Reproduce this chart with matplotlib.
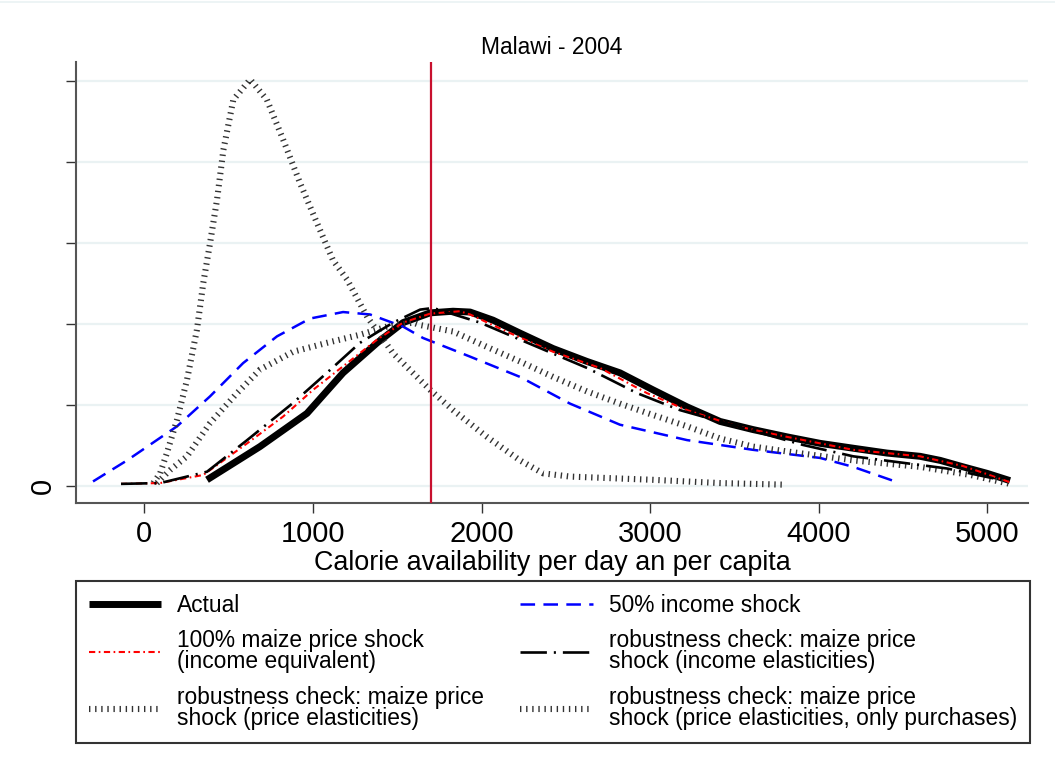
import matplotlib
matplotlib.use("Agg")
import matplotlib.pyplot as plt
from matplotlib.lines import Line2D

plt.rcParams["font.family"] = ["Liberation Sans", "DejaVu Sans"]
plt.rcParams["lines.scale_dashes"] = False

# density values, in units of 1e-4
actual_x = [372, 686, 965, 1179, 1381, 1535, 1695, 1831, 1932, 2068, 2228, 2424, 2626, 2821,
            3017, 3219, 3415, 3610, 3812, 4008, 4204, 4405, 4601, 4720, 4856, 4998, 5134]
actual_y = [0.08, 0.49, 0.90, 1.40, 1.77, 2.02, 2.14, 2.16, 2.15, 2.05, 1.89, 1.70, 1.54, 1.40,
            1.19, 0.98, 0.80, 0.70, 0.61, 0.53, 0.47, 0.41, 0.37, 0.32, 0.24, 0.16, 0.07]

income_x = [-304, -102, 194, 390, 586, 787, 983, 1179, 1339, 1535, 1653, 1932, 2228, 2525,
            2821, 3219, 3610, 4008, 4204, 4453]
income_y = [0.06, 0.32, 0.74, 1.11, 1.52, 1.85, 2.07, 2.15, 2.12, 1.97, 1.83, 1.60, 1.35, 1.02,
            0.76, 0.57, 0.45, 0.35, 0.24, 0.06]

maize_x = [-138, 94, 350, 610, 823, 1001, 1203, 1381, 1535, 1695, 1873, 1932, 2169, 2424,
           2703, 2981, 3219, 3515, 3812, 4204, 4601, 4856, 4998, 5134]
maize_y = [0.03, 0.04, 0.14, 0.53, 0.86, 1.19, 1.52, 1.81, 2.02, 2.13, 2.16, 2.12, 1.89, 1.66,
           1.46, 1.15, 0.94, 0.74, 0.61, 0.45, 0.37, 0.25, 0.15, 0.05]

inc_el_x = [-138, 94, 372, 610, 883, 1083, 1279, 1476, 1636, 1713, 1991, 2228, 2626, 2922,
            3177, 3415, 3907, 4204, 4500, 4760, 5077]
inc_el_y = [0.03, 0.04, 0.18, 0.57, 1.03, 1.40, 1.77, 2.02, 2.18, 2.20, 2.02, 1.81, 1.46, 1.15,
            0.94, 0.80, 0.51, 0.37, 0.29, 0.22, 0.08]

price_el_x = [75, 153, 253, 390, 550, 686, 883, 1083, 1279, 1439, 1594, 1635, 1831, 2032, 2228,
              2424, 2626, 2821, 3017, 3219, 3415, 3610, 3812, 4204, 4601, 4900, 5134]
price_el_y = [0.04, 0.20, 0.37, 0.78, 1.15, 1.44, 1.66, 1.77, 1.87, 1.97, 2.02, 1.99, 1.91, 1.72,
              1.54, 1.35, 1.17, 1.02, 0.88, 0.74, 0.59, 0.49, 0.43, 0.32, 0.24, 0.14, 0.03]

purch_x = [53, 94, 134, 194, 253, 312, 350, 390, 431, 469, 528, 628, 727, 823, 924, 1024, 1119,
           1203, 1322, 1476, 1695, 1831, 2032, 2228, 2365, 2525, 3017, 3415, 3800]
purch_y = [0.04, 0.16, 0.41, 0.82, 1.31, 1.93, 2.51, 3.00, 3.53, 4.15, 4.77, 5.02, 4.77, 4.28,
           3.74, 3.25, 2.79, 2.55, 2.09, 1.64, 1.19, 0.94, 0.61, 0.32, 0.16, 0.12, 0.08, 0.04, 0.02]

cutoff = 1700
x_ticks = [0, 1000, 2000, 3000, 4000, 5000]
y_ticks = [0, 1, 2, 3, 4, 5]
y_tick_labels = ["0", "", "", "", "", ""]

labels = [
    "Actual",
    "50% income shock",
    "100% maize price shock\n(income equivalent)",
    "robustness check: maize price\nshock (income elasticities)",
    "robustness check: maize price\nshock (price elasticities)",
    "robustness check: maize price\nshock (price elasticities, only purchases)",
]

fig = plt.figure(figsize=(10.55, 7.71), dpi=100)
ax = fig.add_axes([76 / 1055, 1 - 503 / 771, 952 / 1055, 441 / 771])

for y in y_ticks:
    ax.axhline(y, color="#eaf2f3", lw=1.6, zorder=0)

dot_style = dict(color="#333333", lw=4.4, dashes=(1.0, 3.4), dash_capstyle="butt")

h_act, = ax.plot(actual_x, actual_y, color="black", lw=5.0, solid_capstyle="butt",
                 solid_joinstyle="round", zorder=3)
h_inc, = ax.plot(income_x, income_y, color="#0000ff", lw=1.8, dashes=(10.5, 6), zorder=4)
h_mz, = ax.plot(maize_x, maize_y, color="#ff0000", lw=1.5, dashes=(4.5, 2.5, 1.2, 2.5), zorder=5)
h_iel, = ax.plot(inc_el_x, inc_el_y, color="black", lw=1.9, dashes=(19, 5, 1.5, 5), zorder=5)
h_pel, = ax.plot(price_el_x, price_el_y, zorder=4, **dot_style)
h_pur, = ax.plot(purch_x, purch_y, zorder=4, **dot_style)

ax.axvline(cutoff, color="#c8102e", lw=1.6, zorder=6)

ax.set_xlim(-405, 5241)
ax.set_ylim(-0.206, 5.235)
ax.set_xticks(x_ticks)
ax.set_yticks(y_ticks)
ax.set_yticklabels(y_tick_labels, rotation=90, va="center")
ax.tick_params(axis="both", labelsize=21, length=7.5, width=1.0, color="#333333")
ax.tick_params(axis="x", pad=5)
ax.tick_params(axis="y", pad=6)

for side in ["top", "right"]:
    ax.spines[side].set_visible(False)
for side in ["left", "bottom"]:
    ax.spines[side].set_color("#555555")
    ax.spines[side].set_linewidth(1.5)

ax.set_title("Malawi - 2004", fontsize=16.4, pad=6)
fig.text(552 / 1055, 1 - 563 / 771, "Calorie availability per day an per capita",
         fontsize=19.4, ha="center", va="center")

# faint outer border line at the very top
fig.add_artist(Line2D([0, 1], [1 - 2 / 771, 1 - 2 / 771], color="#eaf2f3", lw=1.2,
                      transform=fig.transFigure))

handles = [h_act, h_mz, h_pel, h_inc, h_iel, h_pur]
order = [0, 2, 4, 1, 3, 5]
leg = fig.legend(handles, [labels[i] for i in order], ncol=2, loc="upper left",
                 bbox_to_anchor=(76 / 1055, 0.0, 954 / 1055, 1 - 581 / 771),
                 mode="expand", borderaxespad=0, fontsize=16.4, fancybox=False,
                 framealpha=1, edgecolor="#333333", borderpad=0.55, labelspacing=0.55,
                 handlelength=3.2, handletextpad=0.7)
leg.get_frame().set_linewidth(1.5)
for t in leg.get_texts():
    t.set_linespacing(0.9)

fig.savefig("out.png", dpi=100)
